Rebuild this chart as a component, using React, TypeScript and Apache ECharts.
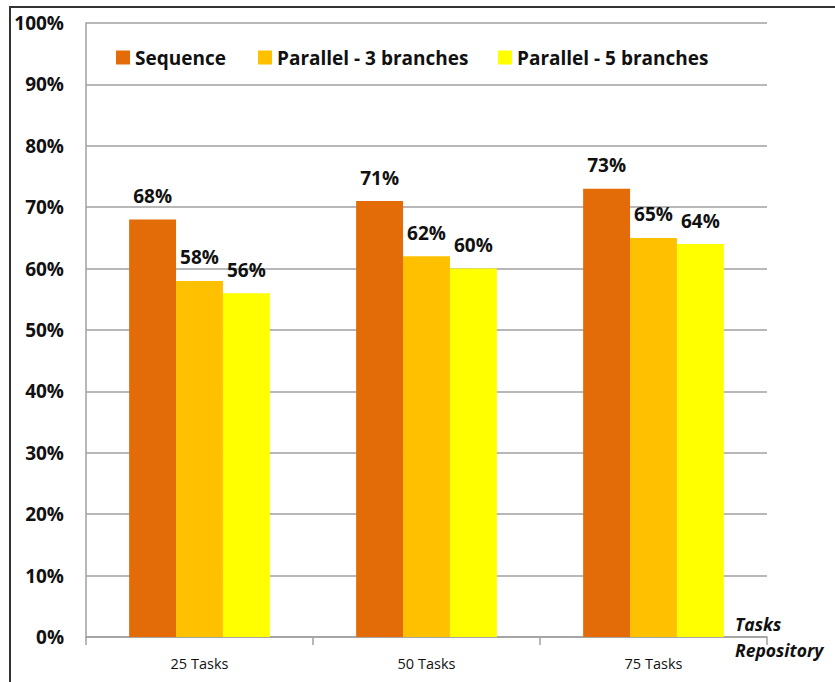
import React, { useEffect, useRef } from "react";
import * as echarts from "echarts";

const categories = ["25 Tasks", "50 Tasks", "75 Tasks"];
const seriesNames = ["Sequence", "Parallel - 3 branches", "Parallel - 5 branches"];
const sequence = [68, 71, 73];
const parallel3 = [58, 62, 65];
const parallel5 = [56, 60, 64];
const colors = ["#E36C09", "#FFC000", "#FFFF00"];
const legendLefts = [116, 258, 498];

export default function App() {
  const ref = useRef<HTMLDivElement>(null);
  useEffect(() => {
    if (!ref.current) return;
    const chart = echarts.init(ref.current, null, { renderer: "svg" });
    const font = "Open Sans";
    const values = [sequence, parallel3, parallel5];
    chart.setOption({
      animation: false,
      backgroundColor: "#ffffff",
      textStyle: { fontFamily: font },
      graphic: [
        {
          type: "rect",
          shape: { x: 10, y: 7, width: 840, height: 700 },
          style: { fill: "none", stroke: "#333333", lineWidth: 2 },
          silent: true,
        },
      ],
      legend: seriesNames.map((n, i) => ({
        data: [n],
        left: legendLefts[i],
        top: 48,
        padding: 0,
        itemWidth: 14,
        itemHeight: 14,
        itemGap: 0,
        icon: "rect",
        textStyle: { fontFamily: font, fontWeight: "bold", fontSize: 19, color: "#111" },
        selectedMode: false,
      })),
      grid: { left: 86, right: 68, top: 23, bottom: 45, containLabel: false },
      xAxis: {
        type: "category",
        data: categories,
        axisLine: { lineStyle: { color: "#a0a0a0", width: 1.5 } },
        axisTick: { show: true, length: 8, lineStyle: { color: "#a0a0a0", width: 1.5 } },
        axisLabel: { fontFamily: font, fontSize: 14.5, color: "#111", margin: 19 },
        name: "Tasks\nRepository",
        nameLocation: "end",
        nameGap: -32,
        nameTextStyle: {
          fontFamily: font,
          fontWeight: "bold",
          fontStyle: "italic",
          fontSize: 17.5,
          color: "#111",
          align: "left",
          verticalAlign: "middle",
          lineHeight: 26,
        },
      },
      yAxis: {
        type: "value",
        min: 0,
        max: 100,
        interval: 10,
        axisLine: { show: true, lineStyle: { color: "#a0a0a0", width: 1.5 } },
        axisTick: { show: false },
        splitLine: { show: true, lineStyle: { color: "#a0a0a0", width: 1.5 } },
        axisLabel: {
          fontFamily: font,
          fontWeight: "bold",
          fontSize: 19,
          color: "#111",
          margin: 22,
          formatter: (v: number) => v + "%",
        },
      },
      series: seriesNames.map((n, i) => ({
        name: n,
        type: "bar",
        data: values[i],
        barGap: "0%",
        barCategoryGap: "38%",
        itemStyle: { color: colors[i] },
        label: {
          show: true,
          position: "top",
          distance: 14,
          fontFamily: font,
          fontWeight: "bold",
          fontSize: 19,
          color: "#111",
          formatter: (p: any) => p.value + "%",
        },
      })),
    });
    return () => chart.dispose();
  }, []);
  return (
    <div
      ref={ref}
      style={{ position: "fixed", left: 0, top: 0, width: 835, height: 682 }}
    />
  );
}
